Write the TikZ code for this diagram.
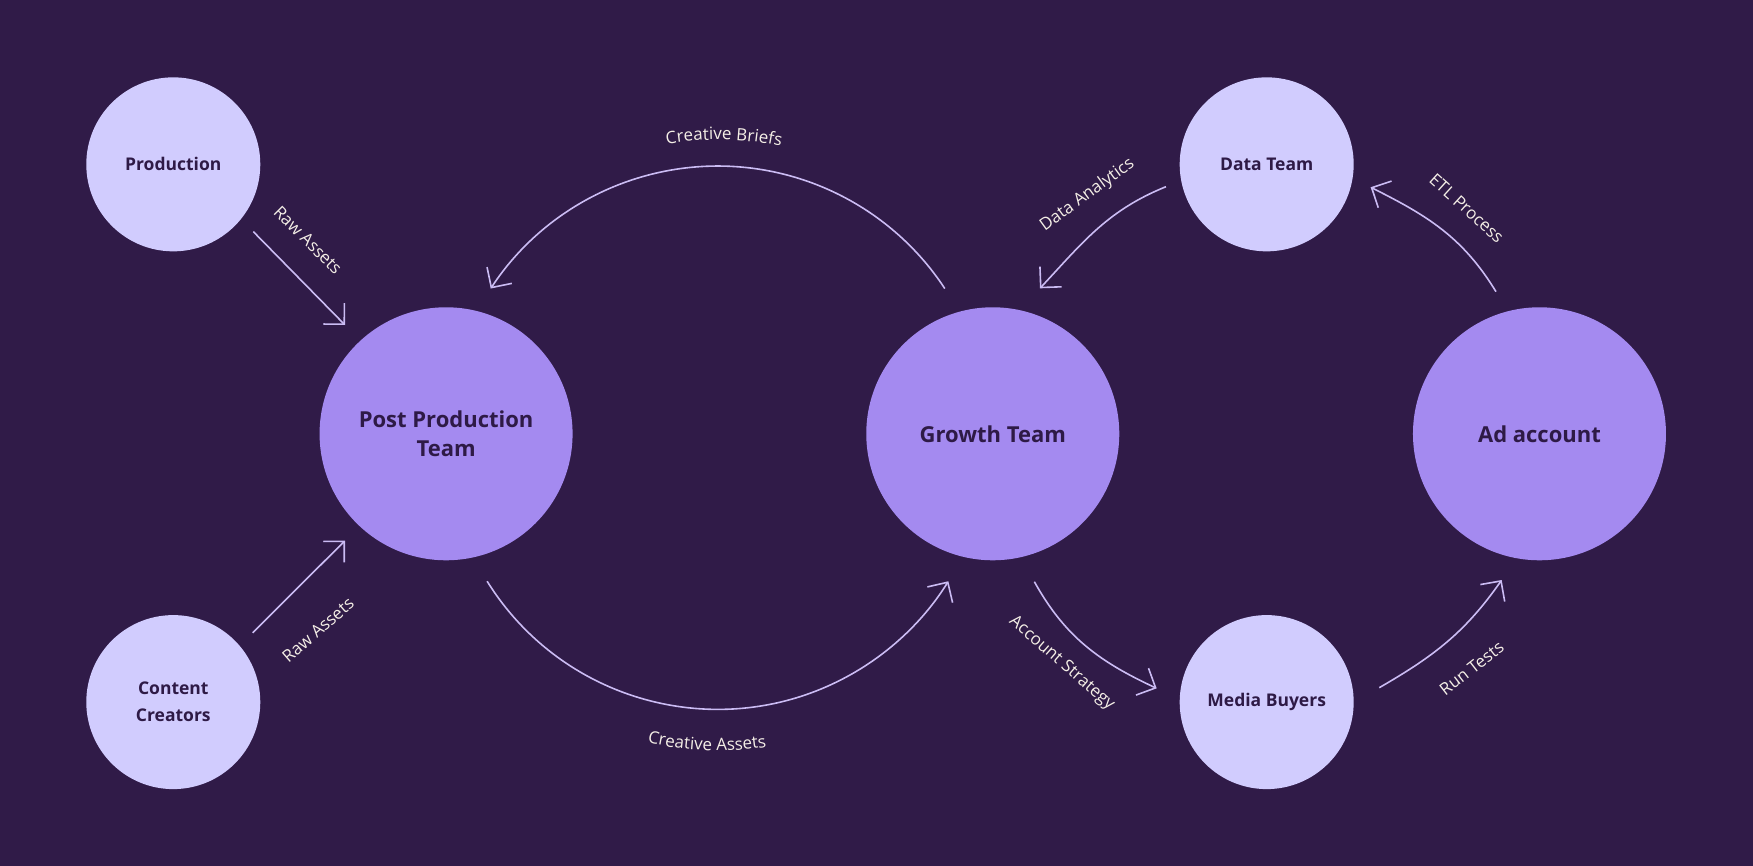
\documentclass[tikz,border=0pt]{standalone}
\usepackage{fontspec}
\setmainfont{Open Sans}
\usetikzlibrary{arrows.meta,decorations.text,calc}
\definecolor{bg}{HTML}{301B48}
\definecolor{smallc}{HTML}{D1CCFE}
\definecolor{bigc}{HTML}{A48AF0}
\definecolor{ntext}{HTML}{2E1A46}
\definecolor{lnc}{HTML}{CBBCF4}
\definecolor{lbl}{HTML}{F4EEE6}
\tikzset{
  smallnode/.style={circle, fill=smallc, minimum size=174pt, inner sep=0pt, align=center, text=ntext, font=\bfseries\fontsize{17.5}{27}\selectfont},
  bignode/.style={circle, fill=bigc, minimum size=253pt, inner sep=0pt, align=center, text=ntext, font=\bfseries\fontsize{22}{29}\selectfont},
  flow/.style={draw=lnc, line width=1.6pt, -{Straight Barb[length=14.8pt,width=29.7pt]}},
  lab/.style={text=lbl, font=\fontsize{17}{20}\selectfont, inner sep=0pt},
}
\begin{document}
\begin{tikzpicture}[x=1.11798pt,y=-1.11798pt]
\fill[bg] (0,0) rectangle (1568,774.6);
\useasboundingbox (0,0) rectangle (1568,774.6);

% nodes
\node[smallnode] (prod) at (155,147) {Production};
\node[smallnode] (cc) at (155,628) {Content\\Creators};
\node[bignode] (ppt) at (399,388) {Post Production\\Team};
\node[bignode] (gt) at (888,388) {Growth Team};
\node[bignode] (ad) at (1377,388) {Ad account};
\node[smallnode] (dt) at (1133,147) {Data Team};
\node[smallnode] (mb) at (1133,628) {Media Buyers};

% connector end points
\coordinate (ra1s) at (226.6,207.2);
\coordinate (ra1e) at (308.6,290.7);
\coordinate (ra2s) at (226,566);
\coordinate (ra2e) at (308.6,483.6);
\coordinate (arcc) at (642,391.5);
\coordinate (cbs) at ($(arcc)+(-33.3:243)$);
\coordinate (cas) at ($(arcc)+(148.1:243)$);
\coordinate (das) at (1042.9,167);
\coordinate (dae) at (930.2,257.9);
\coordinate (etls) at (1338.1,260.9);
\coordinate (etle) at (1226,167.5);
\coordinate (ass) at (925.2,520.3);
\coordinate (ase) at (1034.6,615.7);
\coordinate (rts) at (1233.7,615.1);
\coordinate (rte) at (1343.2,518.8);

% connectors
\draw[flow] (ra1s) -- (ra1e);
\draw[flow] (ra2s) -- (ra2e);
\draw[flow] (cbs) arc[start angle=-33.3, end angle=-146.7, radius=243];
\draw[flow] (cas) arc[start angle=148.1, end angle=31.9, radius=243];
\draw[flow] (das) .. controls (990.5,188.2) and (968.7,216.6) .. (dae);
\draw[flow] (etls) .. controls (1308.4,212.2) and (1277,193) .. (etle);
\draw[flow] (ass) .. controls (952.7,569.8) and (983.3,591.8) .. (ase);
\draw[flow] (rts) .. controls (1283.1,586.6) and (1310.5,565.5) .. (rte);

% labels
\node[lab, rotate=-45] (lra1) at (275.5,214.7) {Raw Assets};
\node[lab, rotate=41] (lra2) at (284.5,563.5) {Raw Assets};
\node[lab, rotate=36] (lda) at (972.6,174.4) {Data Analytics};
\node[lab, rotate=-42] (letl) at (1311.9,186.3) {ETL Process};
\node[lab, rotate=-41] (las) at (949.6,593.3) {Account Strategy};
\node[lab, rotate=38] (lrt) at (1316.3,597.8) {Run Tests};
\path[decorate, decoration={text along path, text align=center,
  text={|\fontsize{17}{20}\selectfont\color{lbl}|Creative Briefs}}]
  ($(arcc)+(-108.8:266.5)$) arc[start angle=-108.8, end angle=-68.8, radius=266.5];
\path[decorate, decoration={text along path, text align=center,
  text={|\fontsize{17}{20}\selectfont\color{lbl}|Creative Assets}}]
  ($(arcc)+(112:280)$) arc[start angle=112, end angle=72, radius=280];
\end{tikzpicture}
\end{document}
